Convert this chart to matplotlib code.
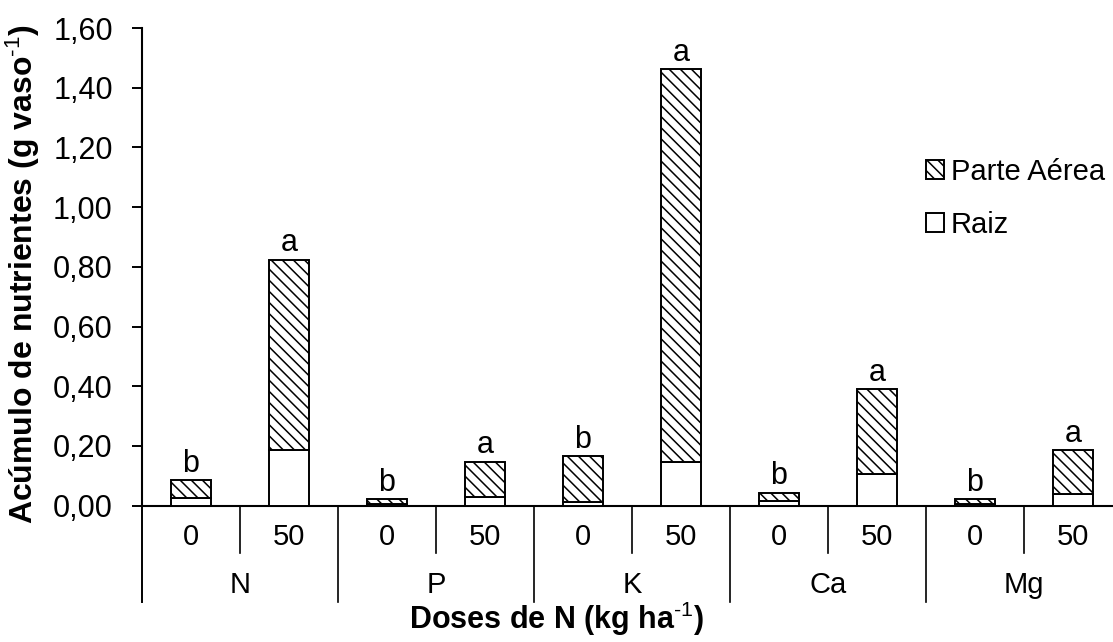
import matplotlib
matplotlib.use("Agg")
import matplotlib.pyplot as plt
from matplotlib.patches import Patch
from matplotlib.ticker import FuncFormatter
import matplotlib.transforms as mtrans

plt.rcParams['font.family'] = ['Liberation Sans', 'DejaVu Sans']
plt.rcParams['mathtext.fontset'] = 'custom'
plt.rcParams['mathtext.rm'] = 'Liberation Sans'
plt.rcParams['mathtext.it'] = 'Liberation Sans:italic'
plt.rcParams['mathtext.bf'] = 'Liberation Sans:bold'
plt.rcParams['hatch.linewidth'] = 1.1
plt.rcParams['hatch.color'] = 'black'

# ---- data ----
nutrients = ['N', 'P', 'K', 'Ca', 'Mg']
doses = ['0', '50']
raiz = [0.026, 0.187, 0.006, 0.030, 0.013, 0.146, 0.016, 0.105, 0.006, 0.040]
parte_aerea = [0.060, 0.637, 0.016, 0.118, 0.153, 1.316, 0.028, 0.286, 0.016, 0.147]
letters = ['b', 'a', 'b', 'a', 'b', 'a', 'b', 'a', 'b', 'a']
yticks = [0.0, 0.2, 0.4, 0.6, 0.8, 1.0, 1.2, 1.4, 1.6]

W, H = 1113, 642
fig = plt.figure(figsize=(W / 100, H / 100), dpi=100)
ax_left, ax_right = 142, 1122
ax_top, ax_bottom = 28, 505.7
ax = fig.add_axes([ax_left / W, (H - ax_bottom) / H,
                   (ax_right - ax_left) / W, (ax_bottom - ax_top) / H])

n = len(raiz)
xs = list(range(n))
bw = 0.41
ax.bar(xs, raiz, width=bw, color='white', edgecolor='black', linewidth=1.4,
       label='Raiz', zorder=3)
ax.bar(xs, parte_aerea, width=bw, bottom=raiz, color='white', edgecolor='black',
       linewidth=1.4, hatch='\\' * 3, label='Parte Aérea', zorder=3)

ax.set_xlim(-0.5, n - 0.5)
ax.set_ylim(0, 1.6)
ax.set_yticks(yticks)
ax.yaxis.set_major_formatter(FuncFormatter(lambda v, p: f"{v:.2f}".replace('.', ',')))
ax.tick_params(axis='y', direction='out', length=7, width=1.4, pad=14, labelsize=22)
ax.set_xticks([])
for s in ['top', 'right']:
    ax.spines[s].set_visible(False)
ax.spines['left'].set_linewidth(1.5)
ax.spines['bottom'].set_linewidth(1.5)

# letters above bars
for i in range(n):
    tot = raiz[i] + parte_aerea[i]
    ax.annotate(letters[i], (xs[i], tot), xytext=(0, 6), textcoords='offset points',
                ha='center', va='baseline', fontsize=22)

axh = ax_bottom - ax_top
def yax(px):
    return -(px - ax_bottom) / axh

trans = mtrans.blended_transform_factory(ax.transData, ax.transAxes)
for i in range(n):
    ax.text(xs[i], yax(537), doses[i % 2], transform=trans, ha='center', va='center',
            fontsize=21)
for g, name in enumerate(nutrients):
    ax.text(2 * g + 0.5, yax(585), name, transform=trans, ha='center', va='center',
            fontsize=21)
for g in range(len(nutrients)):
    ax.plot([2 * g + 0.5, 2 * g + 0.5], [0, yax(553)], transform=trans, color='black',
            lw=1.2, clip_on=False)
for g in range(len(nutrients) + 1):
    ax.plot([2 * g - 0.5, 2 * g - 0.5], [0, yax(602)], transform=trans, color='black',
            lw=1.4 if g == 0 else 1.2, clip_on=False)

fig.text(0.5, 4 / H, r'Doses de N (kg ha$^{\text{-1}}$)', ha='center',
         va='bottom', fontsize=22, fontweight='bold')
fig.text(23 / W, (H - 274) / H, r'Acúmulo de nutrientes (g vaso$^{\text{-1}}$)',
         rotation=90, ha='center', va='center', fontsize=23, fontweight='bold')

handles = [Patch(facecolor='white', edgecolor='black', hatch='\\' * 3, linewidth=1.4),
           Patch(facecolor='white', edgecolor='black', linewidth=1.4)]
fig.legend(handles, ['Parte Aérea', 'Raiz'], loc='upper left',
           bbox_to_anchor=(926 / W, (H - 158) / H), frameon=False, borderpad=0,
           handlelength=0.6, handleheight=0.6, handletextpad=0.25,
           labelspacing=0.85, fontsize=21, borderaxespad=0)

fig.savefig('out.png', dpi=100)
